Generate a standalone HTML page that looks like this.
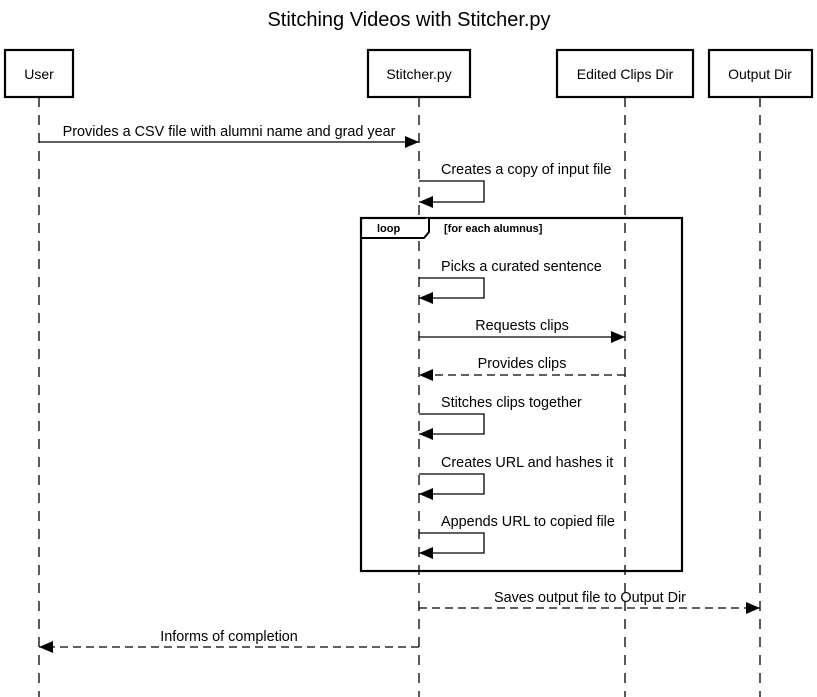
<!DOCTYPE html>
<html><head><meta charset="utf-8"><style>
html,body{margin:0;padding:0;background:#fff;}
svg{display:block;font-family:"Liberation Sans",Arial,sans-serif;}
</style></head><body>
<svg width="817" height="697" viewBox="0 0 817 697" xmlns="http://www.w3.org/2000/svg">
<defs>
<marker id="ah" markerWidth="14" markerHeight="12" refX="14" refY="6" orient="auto" markerUnits="userSpaceOnUse">
<path d="M0,0 L14,6 L0,12 Z" fill="#000"/>
</marker>
</defs>
<rect width="817" height="697" fill="#fff"/>
<text x="409" y="26" font-size="20" text-anchor="middle">Stitching Videos with Stitcher.py</text>

<g stroke="#000" stroke-width="1.3" stroke-dasharray="10,8" fill="none">
<line x1="39" y1="97" x2="39" y2="697"/>
<line x1="419" y1="97" x2="419" y2="697"/>
<line x1="625" y1="97" x2="625" y2="697"/>
<line x1="760" y1="97" x2="760" y2="697"/>
</g>

<g stroke="#000" stroke-width="2.2" fill="#fff">
<rect x="5" y="50" width="68" height="47"/>
<rect x="368" y="50" width="102" height="47"/>
<rect x="557" y="50" width="136" height="47"/>
<rect x="709" y="50" width="103" height="47"/>
</g>
<g font-size="14" text-anchor="middle">
<text x="39" y="79">User</text>
<text x="419" y="79">Stitcher.py</text>
<text x="625" y="79">Edited Clips Dir</text>
<text x="760" y="79">Output Dir</text>
</g>

<!-- loop -->
<rect x="361" y="218" width="321" height="353" fill="none" stroke="#000" stroke-width="2.2"/>
<path d="M361,238 L424,238 L429,232 L429,218" fill="#fff" stroke="#000" stroke-width="2"/>
<text x="377" y="232" font-size="11" font-weight="bold">loop</text>
<text x="444" y="232" font-size="11" font-weight="bold">[for each alumnus]</text>

<g stroke="#000" stroke-width="1.3" fill="none">
<line x1="39" y1="142" x2="419" y2="142" marker-end="url(#ah)"/>
<path d="M419,181 H484 V202 H419" marker-end="url(#ah)"/>
<path d="M419,278 H484 V298 H419" marker-end="url(#ah)"/>
<line x1="419" y1="337" x2="625" y2="337" marker-end="url(#ah)"/>
<line x1="625" y1="375" x2="419" y2="375" stroke-dasharray="8,5" marker-end="url(#ah)"/>
<path d="M419,414 H484 V434 H419" marker-end="url(#ah)"/>
<path d="M419,474 H484 V494 H419" marker-end="url(#ah)"/>
<path d="M419,533 H484 V553 H419" marker-end="url(#ah)"/>
<line x1="419" y1="608" x2="760" y2="608" stroke-dasharray="8,5" marker-end="url(#ah)"/>
<line x1="419" y1="647" x2="39" y2="647" stroke-dasharray="8,5" marker-end="url(#ah)"/>
</g>

<g font-size="14.4">
<text x="229" y="136" text-anchor="middle">Provides a CSV file with alumni name and grad year</text>
<text x="441" y="174">Creates a copy of input file</text>
<text x="441" y="271">Picks a curated sentence</text>
<text x="522" y="330" text-anchor="middle">Requests clips</text>
<text x="522" y="368" text-anchor="middle">Provides clips</text>
<text x="441" y="407">Stitches clips together</text>
<text x="441" y="467">Creates URL and hashes it</text>
<text x="441" y="526">Appends URL to copied file</text>
<text x="590" y="602" text-anchor="middle">Saves output file to Output Dir</text>
<text x="229" y="641" text-anchor="middle">Informs of completion</text>
</g>
</svg>
</body></html>
